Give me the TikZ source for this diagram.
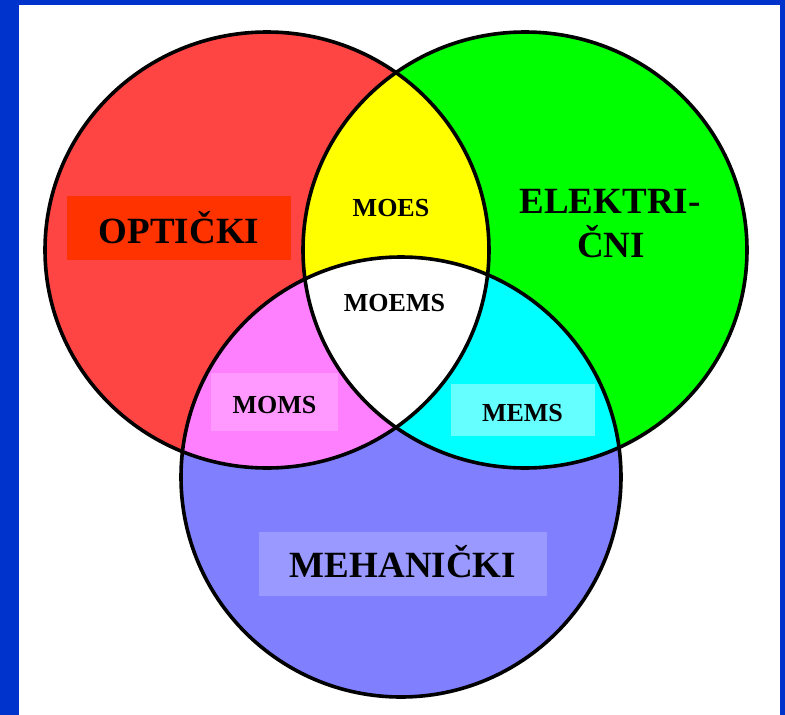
\documentclass[tikz,border=0pt]{standalone}
\usepackage{fontspec}
\setmainfont{Liberation Serif}
\definecolor{cBorder}{RGB}{0,51,204}
\definecolor{cRed}{RGB}{255,68,68}
\definecolor{cOrange}{RGB}{255,51,0}
\definecolor{cGreen}{RGB}{0,255,0}
\definecolor{cBlue}{RGB}{128,128,255}
\definecolor{cYellow}{RGB}{255,255,0}
\definecolor{cMagenta}{RGB}{255,128,255}
\definecolor{cCyan}{RGB}{0,255,255}
\definecolor{cMagBox}{RGB}{255,153,255}
\definecolor{cCyanBox}{RGB}{102,255,255}
\definecolor{cBlueBox}{RGB}{153,153,255}
\tikzset{
  ring/.style={draw=black, line width=3.6pt},
  bigtext/.style={inner sep=0pt, anchor=base, font=\bfseries\fontsize{37}{44}\selectfont},
  smalltext/.style={inner sep=0pt, anchor=base, font=\bfseries\fontsize{26}{30}\selectfont}
}
\begin{document}
\begin{tikzpicture}[x=1pt,y=-1pt]
\useasboundingbox (0,0) rectangle (785,715);
\fill[cBorder] (0,0) rectangle (785,715);
\fill[white] (19,5) rectangle (780,715);
% base circles
\fill[cRed] (267,250) circle[x radius=222, y radius=218];
\fill[cGreen] (525,250) circle[x radius=222, y radius=218];
\fill[cBlue] (401,477) circle[radius=220];
% pairwise intersections
\begin{scope}
  \clip (267,250) circle[x radius=222, y radius=218];
  \fill[cYellow] (525,250) circle[x radius=222, y radius=218];
  \fill[cMagenta] (401,477) circle[radius=220];
\end{scope}
\begin{scope}
  \clip (525,250) circle[x radius=222, y radius=218];
  \fill[cCyan] (401,477) circle[radius=220];
\end{scope}
\begin{scope}
  \clip (267,250) circle[x radius=222, y radius=218];
  \clip (525,250) circle[x radius=222, y radius=218];
  \fill[white] (401,477) circle[radius=220];
\end{scope}
% label boxes
\fill[cOrange] (67,196) rectangle (291,260);
\fill[cMagBox] (211,373) rectangle (338,431);
\fill[cCyanBox] (451,384) rectangle (595,436);
\fill[cBlueBox] (259,532) rectangle (547,596);
% outlines
\draw[ring] (267,250) circle[x radius=222, y radius=218];
\draw[ring] (525,250) circle[x radius=222, y radius=218];
\draw[ring] (401,477) circle[radius=220];
% labels
\node[bigtext] (opt) at (179,243) {OPTIČKI};
\node[bigtext] (el1) at (610,213) {ELEKTRI-};
\node[bigtext] (el2) at (611,257) {ČNI};
\node[bigtext] (meh) at (403,577) {MEHANIČKI};
\node[smalltext] (moes) at (391,216) {MOES};
\node[smalltext] (moems) at (394.5,311) {MOEMS};
\node[smalltext] (moms) at (274.5,413) {MOMS};
\node[smalltext] (mems) at (522.5,421) {MEMS};
\end{tikzpicture}
\end{document}
